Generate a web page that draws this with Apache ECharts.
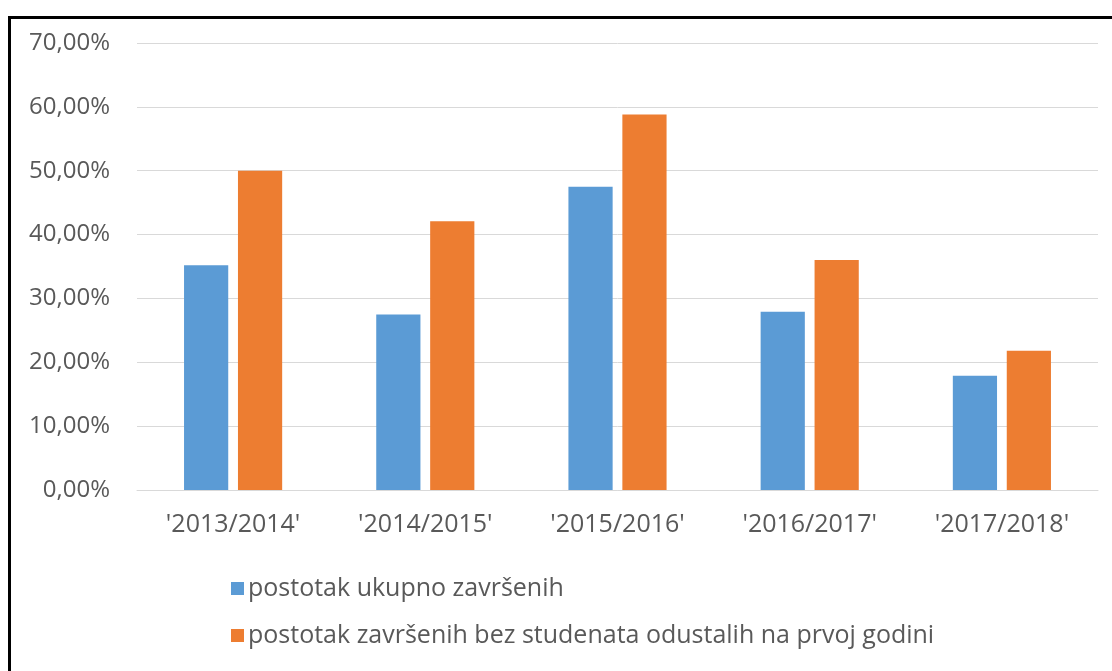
<!DOCTYPE html>
<html><head><meta charset="utf-8">
<script src="https://cdn.jsdelivr.net/npm/echarts@6/dist/echarts.min.js"></script>
<style>
html,body{margin:0;padding:0;background:#fff;width:1112px;height:671px;overflow:hidden;}
#frame{position:absolute;left:8px;top:16px;width:1110px;height:660px;border-top:3px solid #000;border-left:3px solid #000;}
#c{position:absolute;left:0;top:0;width:1112px;height:671px;}
</style></head>
<body>
<div id="frame"></div>
<div id="c"></div>
<script>
const categories = ["'2013/2014'", "'2014/2015'", "'2015/2016'", "'2016/2017'", "'2017/2018'"];
const seriesNames = ["postotak ukupno završenih", "postotak završenih bez studenata odustalih na prvoj godini"];
const totalCompleted = [35.2, 27.5, 47.5, 27.9, 17.9];
const completedWithoutDropouts = [50.0, 42.1, 58.8, 36.0, 21.8];
const yTicks = [0, 10, 20, 30, 40, 50, 60, 70];

const chart = echarts.init(document.getElementById('c'), null, {renderer: 'canvas'});
const font = '"Open Sans", sans-serif';
chart.setOption({
  animation: false,
  color: ['#5B9BD5', '#ED7D31'],
  grid: {left: 137, right: 14, top: 43, bottom: 181, containLabel: false},
  legend: {
    orient: 'vertical', left: 226, top: 571, itemGap: 22,
    itemWidth: 13, itemHeight: 13, icon: 'rect',
    textStyle: {fontFamily: font, fontSize: 25, color: '#595959', padding: [0,0,0,-1]},
    data: seriesNames
  },
  xAxis: {
    type: 'category', data: categories,
    axisLine: {lineStyle: {color: '#d9d9d9', width: 1}},
    axisTick: {show: false},
    axisLabel: {fontFamily: font, fontSize: 25, color: '#595959', margin: 22}
  },
  yAxis: {
    type: 'value', min: yTicks[0], max: yTicks[yTicks.length-1], interval: 10,
    axisLine: {show: false}, axisTick: {show: false},
    splitLine: {lineStyle: {color: '#d9d9d9', width: 1}},
    axisLabel: {fontFamily: font, fontSize: 24, color: '#595959', margin: 27,
      formatter: v => v.toFixed(2).replace('.', ',') + '%'}
  },
  series: [
    {name: seriesNames[0], type: 'bar', data: totalCompleted, barWidth: '23%', barGap: '22%'},
    {name: seriesNames[1], type: 'bar', data: completedWithoutDropouts, barWidth: '23%', barGap: '22%'}
  ]
});
</script>
</body></html>
